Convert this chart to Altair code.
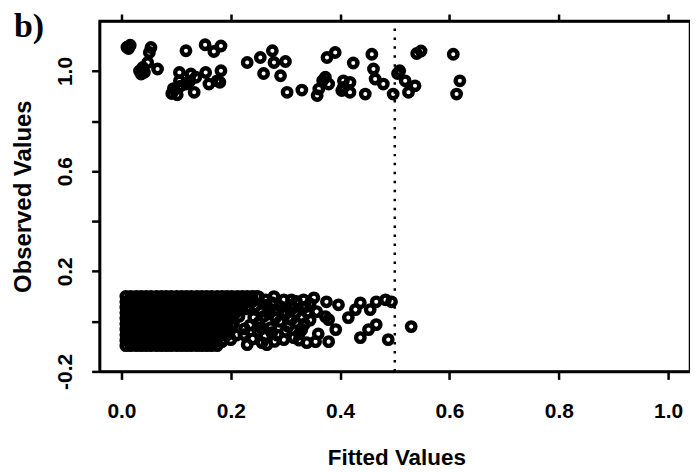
import altair as alt
import pandas as pd

# ---- data ----
# dense lower band (observed = 0, jittered): rows of points sharing the fitted-value positions below
core_x = [0.008, 0.017, 0.027, 0.036, 0.045, 0.054, 0.064, 0.073, 0.082, 0.091, 0.101, 0.110, 0.119,
          0.128, 0.138, 0.147, 0.156, 0.165, 0.175, 0.184, 0.193, 0.202, 0.212, 0.221, 0.230, 0.239, 0.248]
core_row_y = [0.100, 0.078, 0.056, 0.034, 0.012, -0.010, -0.032, -0.054, -0.076, -0.097]
core_row_count = [27, 26, 25, 22, 22, 22, 21, 21, 20, 19]

# sparser lower points (fitted, observed)
lower_tail = [
    (0.184, 0.035), (0.197, 0.035), (0.209, 0.035), (0.197, -0.045), (0.184, -0.081), (0.200, -0.073),
    (0.242, 0.015), (0.255, 0.039), (0.251, 0.098), (0.251, -0.005), (0.273, -0.025), (0.257, -0.085),
    (0.266, -0.093), (0.297, -0.073), (0.301, 0.035), (0.311, 0.007), (0.315, 0.054), (0.282, 0.015),
    (0.337, 0.058), (0.319, 0.035), (0.319, -0.005), (0.330, 0.015), (0.330, -0.033), (0.315, -0.065),
    (0.339, -0.085), (0.355, -0.081), (0.379, -0.081), (0.357, 0.039), (0.375, 0.078), (0.397, 0.066),
    (0.428, 0.047), (0.437, 0.074), (0.455, 0.047), (0.466, 0.078), (0.483, 0.086), (0.494, 0.078),
    (0.379, 0.007), (0.415, 0.015), (0.437, -0.065), (0.452, -0.033), (0.466, -0.013), (0.488, -0.073),
    (0.530, -0.021), (0.311, 0.086), (0.333, 0.086), (0.352, 0.094), (0.373, 0.019), (0.392, -0.033),
    (0.279, 0.099), (0.297, 0.086), (0.264, 0.086), (0.224, -0.053), (0.230, -0.093), (0.190, 0.010),
    (0.205, -0.010), (0.215, 0.020), (0.225, -0.030), (0.210, -0.055), (0.230, 0.050), (0.240, -0.070),
    (0.235, -0.015), (0.345, 0.005), (0.360, -0.050), (0.325, -0.050), (0.345, 0.070), (0.290, 0.060),
    (0.300, -0.040), (0.285, -0.055), (0.270, 0.030), (0.265, 0.065),
    (0.245, 0.060), (0.250, -0.040), (0.260, 0.020), (0.262, -0.060), (0.275, 0.075), (0.280, -0.080),
    (0.290, 0.000), (0.295, 0.030), (0.305, -0.020), (0.310, 0.065), (0.320, 0.080), (0.325, -0.075),
    (0.335, -0.010), (0.340, 0.035), (0.270, 0.050), (0.285, 0.045), (0.255, -0.025), (0.275, -0.045),
]

# upper points (observed = 1, jittered)
upper_points = [
    (0.010, 1.095), (0.016, 1.103), (0.013, 1.090), (0.054, 1.094), (0.051, 1.074),
    (0.039, 1.014), (0.036, 0.988), (0.033, 1.000), (0.042, 0.995), (0.066, 1.008), (0.048, 1.034),
    (0.118, 1.081), (0.153, 1.105), (0.169, 1.078), (0.182, 1.100),
    (0.106, 0.994), (0.127, 0.988), (0.154, 0.994), (0.182, 1.001),
    (0.092, 0.910), (0.097, 0.925), (0.102, 0.905), (0.095, 0.930), (0.108, 0.940),
    (0.133, 0.915), (0.160, 0.948), (0.175, 0.961), (0.118, 0.948), (0.136, 0.975), (0.106, 0.961),
    (0.125, 0.960), (0.180, 0.955),
    (0.230, 1.034), (0.254, 1.054), (0.276, 1.081), (0.279, 1.034), (0.300, 1.038), (0.260, 0.990),
    (0.291, 0.981), (0.303, 0.915), (0.330, 0.924),
    (0.376, 1.054), (0.391, 1.074), (0.373, 0.975), (0.368, 0.962), (0.361, 0.928), (0.358, 0.902),
    (0.379, 0.948), (0.406, 0.961), (0.403, 0.922), (0.418, 0.955), (0.406, 0.935), (0.418, 0.915),
    (0.458, 1.067), (0.424, 1.032), (0.446, 0.908), (0.461, 1.008), (0.464, 0.968), (0.479, 0.948),
    (0.497, 0.908), (0.509, 1.001), (0.505, 0.990), (0.519, 0.961), (0.537, 0.941), (0.525, 0.915),
    (0.540, 1.070), (0.548, 1.080), (0.607, 1.067), (0.619, 0.961), (0.613, 0.908),
]

cutoff = [0.5]
x_domain = [-0.04, 1.04]
y_domain = [-0.2, 1.2]
x_ticks = [0.0, 0.2, 0.4, 0.6, 0.8, 1.0]
y_ticks = [-0.2, 0.0, 0.2, 0.4, 0.6, 0.8, 1.0]
y_labelled = [-0.2, 0.2, 0.6, 1.0]
panel_tag = ["b)"]

# ---- build table ----
rows = []
for yv, n in zip(core_row_y, core_row_count):
    for xv in core_x[:n]:
        rows.append({"fitted": xv, "observed": yv})
for xv, yv in lower_tail + upper_points:
    rows.append({"fitted": xv, "observed": yv})
df = pd.DataFrame(rows)

rule_df = pd.DataFrame({"cut": cutoff, "lo": [y_domain[0]], "hi": [y_domain[1]]})

FONT = "Liberation Sans"
xscale = alt.Scale(domain=x_domain, nice=False, zero=False)
yscale = alt.Scale(domain=y_domain, nice=False, zero=False)

ylab_expr = ("indexof(%s, datum.value) >= 0 ? replace(format(datum.value, '.1f'), '\u2212', '-') : ''"
             % str(y_labelled))

points = alt.Chart(df).mark_point(
    shape="circle", filled=False, size=72, strokeWidth=4.4, color="black", opacity=1
).encode(
    x=alt.X("fitted:Q", scale=xscale,
            axis=alt.Axis(values=x_ticks, format=".1f", title="Fitted Values",
                          labelPadding=21, titleX=298, titleY=93, titleFontSize=22.5,
                          titleBaseline="alphabetic", titleAlign="center")),
    y=alt.Y("observed:Q", scale=yscale,
            axis=alt.Axis(values=y_ticks, labelExpr=ylab_expr, title="Observed Values",
                          labelAngle=270, labelAlign="center", labelBaseline="alphabetic",
                          labelPadding=20, titleAngle=270, titleX=-69, titleY=176,
                          titleFontSize=24,
                          titleBaseline="alphabetic", titleAlign="center")),
)

rule = alt.Chart(rule_df).mark_rule(
    strokeDash=[2.5, 6.5], strokeWidth=2.5, color="black"
).encode(
    x=alt.X("cut:Q", scale=xscale,
            axis=alt.Axis(orient="top", values=x_ticks, labels=False, title=None, tickSize=7)),
    y=alt.Y("lo:Q", scale=yscale,
            axis=alt.Axis(orient="right", values=y_ticks, labels=False, title=None, tickSize=4)),
    y2="hi:Q",
)

tag = alt.Chart(pd.DataFrame({"tag": panel_tag})).mark_text(
    font="Liberation Serif", fontSize=34, fontWeight="bold", color="black",
    align="left", baseline="alphabetic"
).encode(text="tag:N", x=alt.value(-86), y=alt.value(16))

chart = alt.layer(points, rule, tag).resolve_axis(
    x="independent", y="independent"
).properties(
    width=593,
    height=352,
    background="white",
    padding={"left": 92, "top": 12, "right": 0, "bottom": 100},
    autosize=alt.AutoSizeParams(type="none"),
).configure_view(
    stroke="black", strokeWidth=2.5
).configure_axis(
    grid=False, domainColor="black", domainWidth=2.5, tickColor="black", tickWidth=2.5,
    tickSize=8, labelFont=FONT, labelFontSize=21, labelFontWeight="bold", labelColor="black",
    titleFont=FONT, titleFontSize=22, titleFontWeight="bold", titleColor="black",
)

chart.save("out.html", embed_options={"renderer": "svg", "actions": False})
